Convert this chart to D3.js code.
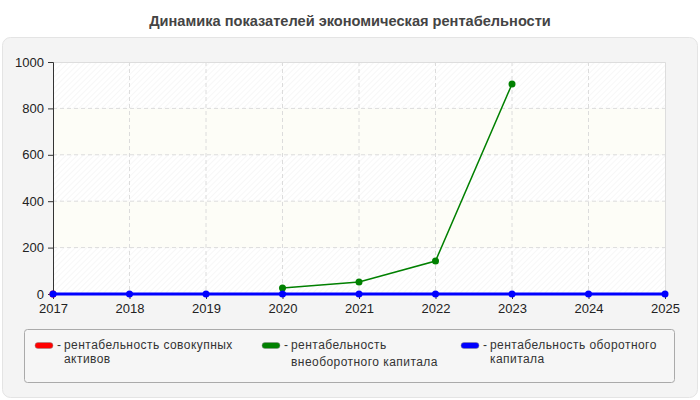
<!DOCTYPE html>
<html>
<head>
<meta charset="utf-8">
<script src="https://cdn.jsdelivr.net/npm/d3@7"></script>
<style>
  body { margin: 0; background: #fff; }
  svg { font-family: "Liberation Sans", Arial, sans-serif; }
</style>
</head>
<body>
<svg width="700" height="400"></svg>
<script>
const years = [2017, 2018, 2019, 2020, 2021, 2022, 2023, 2024, 2025];
const yTicks = [0, 200, 400, 600, 800, 1000];

// null = no value for that year
const totalAssets = [0, null, null, null, null, null, null, null, null];
const nonCurrent = [null, null, null, 26, 52, 142, 905, null, null];
const working = [0, 0, 0, 0, 0, 0, 0, 0, 0];

const seriesNames = [
    ["рентабельность совокупных", "активов"],
    ["рентабельность", "внеоборотного капитала"],
    ["рентабельность оборотного", "капитала"]
];
const seriesColors = ["#ff0000", "#008000", "#0000ff"];

var svg = d3.select("svg");

// Layout
m = { top: 62, right: 35, bottom: 106, left: 53 };
w = 700 - m.left - m.right;
h = 400 - m.top - m.bottom;

// Panel
svg.append("rect")
    .attr("x", 2.5).attr("y", 37.5)
    .attr("width", 695).attr("height", 360)
    .attr("rx", 8)
    .attr("fill", "#f4f4f4")
    .attr("stroke", "#e4e4e4");

svg.append("text")
    .attr("x", 350).attr("y", 26)
    .attr("text-anchor", "middle")
    .attr("font-size", 14.6)
    .attr("font-weight", "bold")
    .attr("fill", "#444")
    .text("Динамика показателей экономическая рентабельности");

var x = d3.scaleLinear().domain([2017, 2025]).range([m.left, m.left + w]);
var y = d3.scaleLinear().domain([0, 1000]).range([m.top + h, m.top]);

// Hatch pattern
var defs = svg.append("defs");
var pat = defs.append("pattern")
    .attr("id", "hatch")
    .attr("patternUnits", "userSpaceOnUse")
    .attr("width", 4).attr("height", 4)
    .attr("patternTransform", "rotate(45)");
pat.append("rect").attr("width", 4).attr("height", 4).attr("fill", "#fff");
pat.append("line").attr("x1", 0).attr("y1", 0).attr("x2", 0).attr("y2", 4)
    .attr("stroke", "#efefef").attr("stroke-width", 1);

// Bands
var bands = d3.pairs(yTicks);
svg.append("g").selectAll("rect")
    .data(bands)
    .enter().append("rect")
    .attr("x", m.left)
    .attr("y", d => y(d[1]))
    .attr("width", w)
    .attr("height", d => y(d[0]) - y(d[1]))
    .attr("fill", (d, i) => i % 2 === 0 ? "url(#hatch)" : "#fdfdf7");

// Grid
var grid = svg.append("g").attr("stroke", "#dcdcdc").attr("stroke-dasharray", "4,3");
grid.selectAll(".gy")
    .data(yTicks.slice(1, -1))
    .enter().append("line")
    .attr("x1", m.left).attr("x2", m.left + w)
    .attr("y1", d => y(d)).attr("y2", d => y(d));
grid.selectAll(".gx")
    .data(years.slice(1, -1))
    .enter().append("line")
    .attr("x1", d => x(d)).attr("x2", d => x(d))
    .attr("y1", m.top).attr("y2", m.top + h);

// Frame top/right
svg.append("path")
    .attr("d", `M${m.left},${m.top + 0.5}H${m.left + w + 0.5}V${m.top + h}`)
    .attr("fill", "none")
    .attr("stroke", "#dddddd");

// Axes
var yAxis = svg.append("g")
    .attr("transform", `translate(${m.left},0)`)
    .call(d3.axisLeft(y).tickValues(yTicks).tickFormat(d3.format("d")).tickSize(5).tickPadding(4));
var xAxis = svg.append("g")
    .attr("transform", `translate(0,${m.top + h})`)
    .call(d3.axisBottom(x).tickValues(years).tickFormat(d3.format("d")).tickSize(5).tickPadding(5));
[yAxis, xAxis].forEach(a => {
    a.selectAll("text").attr("font-size", 13).attr("fill", "#222")
        .attr("font-family", "Liberation Sans, Arial, sans-serif");
    a.selectAll("line").attr("stroke", "#333");
    a.select(".domain").attr("stroke", "#333");
});
xAxis.select(".domain").remove();

// Series
var series = [
    { values: totalAssets, color: seriesColors[0], width: 2 },
    { values: nonCurrent, color: seriesColors[1], width: 1.5 },
    { values: working, color: seriesColors[2], width: 3 }
];

var line = d3.line()
    .defined(d => d.v !== null)
    .x(d => x(d.year))
    .y(d => y(d.v));

series.forEach(s => {
    var pts = years.map((yr, i) => ({ year: yr, v: s.values[i] }));
    svg.append("path")
        .datum(pts)
        .attr("fill", "none")
        .attr("stroke", s.color)
        .attr("stroke-width", s.width)
        .attr("d", line);
    svg.append("g").selectAll("circle")
        .data(pts.filter(d => d.v !== null))
        .enter().append("circle")
        .attr("cx", d => x(d.year))
        .attr("cy", d => y(d.v))
        .attr("r", 3.5)
        .attr("fill", s.color);
});

// Legend
svg.append("rect")
    .attr("x", 24.5).attr("y", 329.5)
    .attr("width", 650).attr("height", 53)
    .attr("rx", 3)
    .attr("fill", "#f6f6f6")
    .attr("stroke", "#aaa");

var legendX = [35, 262, 461];
var secondLineY = [363, 366, 363];
var lg = svg.append("g").selectAll("g")
    .data(seriesNames)
    .enter().append("g")
    .attr("font-size", 12)
    .attr("letter-spacing", 0.45)
    .attr("fill", "#333");
lg.append("rect")
    .attr("x", (d, i) => legendX[i])
    .attr("y", 342.5)
    .attr("width", 18).attr("height", 6)
    .attr("rx", 3)
    .attr("fill", (d, i) => seriesColors[i])
    .attr("stroke", "#888")
    .attr("stroke-width", 0.5);
lg.append("text")
    .attr("x", (d, i) => legendX[i] + 22)
    .attr("y", 349)
    .text("-");
lg.append("text")
    .attr("x", (d, i) => legendX[i] + 29)
    .attr("y", 349)
    .text(d => d[0]);
lg.append("text")
    .attr("x", (d, i) => legendX[i] + 29)
    .attr("y", (d, i) => secondLineY[i])
    .text(d => d[1]);
</script>
</body>
</html>
